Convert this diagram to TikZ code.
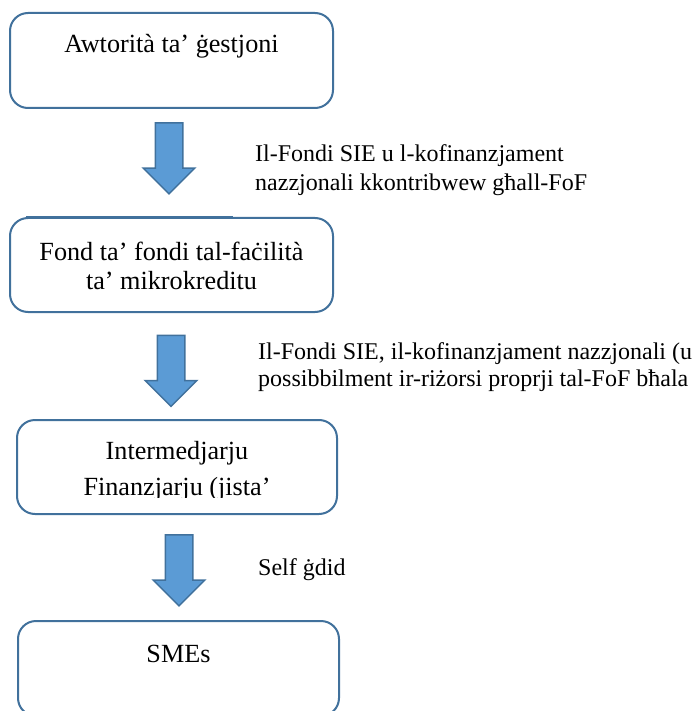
\documentclass[tikz,border=0pt]{standalone}
\usepackage{fontspec}
\setmainfont{Liberation Serif}
\usepackage{tikz}
\usetikzlibrary{shapes,arrows,positioning}
\definecolor{edgeblue}{HTML}{41719C}
\definecolor{fillblue}{HTML}{5B9BD5}
\tikzstyle{stage} = [rectangle, draw=edgeblue, line width=2pt, rounded corners=18pt, fill=white, inner sep=0pt]
\tikzstyle{stagetext} = [anchor=base, inner sep=0pt, text=black, font=\fontsize{26.2}{28}\selectfont]
\tikzstyle{flow} = [single arrow, draw=edgeblue, line width=1.5pt, fill=fillblue, shape border rotate=270, single arrow head extend=12pt, single arrow tip angle=90, minimum width=50pt, minimum height=71pt, inner xsep=13pt, inner ysep=0pt]
\tikzstyle{note} = [anchor=base west, inner sep=0pt, text=black, font=\fontsize{24}{29}\selectfont]

\begin{document}
\begin{tikzpicture}[x=1pt, y=-1pt]
\clip (0,0) rectangle (694,711);

% boxes =============================

\node[stage, minimum width=323pt, minimum height=95pt] (b1) at (171.5,60.5) {};
\node[stage, minimum width=323pt, minimum height=94pt] (b2) at (171.5,265) {};
\node[stage, minimum width=320pt, minimum height=94pt] (b3) at (177,467) {};
\node[stage, minimum width=321pt, minimum height=95pt] (b4) at (178.5,668.5) {};
\draw[edgeblue, line width=1pt] (26,216.6) -- (233,216.6);

% box texts
\node[stagetext] (t1) at (171.5,53) {Awtorità ta’ ġestjoni};
\node[stagetext] (t2a) at (171.5,260) {Fond ta’ fondi tal-faċilità};
\node[stagetext] (t2b) at (171.5,289) {ta’ mikrokreditu};
\begin{scope}
\clip (0,0) rectangle (694,497.5);
\node[stagetext] (t3a) at (177,459) {Intermedjarju};
\node[stagetext] (t3b) at (177,495) {Finanzjarju (jista’};
\end{scope}
\node[stagetext] (t4) at (178.5,662) {SMEs};

% arrows =============================

\node[flow] (a1) at (169,151.5) {};
\node[flow] (a2) at (171,364) {};
\node[flow] (a3) at (179,563.5) {};

% notes
\node[note] (n1a) at (255,162) {Il-Fondi SIE u l-kofinanzjament};
\node[note] (n1b) at (255,191) {nazzjonali kkontribwew għall-FoF};
\node[note] (n2a) at (258,359) {Il-Fondi SIE, il-kofinanzjament nazzjonali (u};
\node[note] (n2b) at (258,386) {possibbilment ir-riżorsi proprji tal-FoF bħala};
\node[note] (n3) at (258,575) {Self ġdid};

\end{tikzpicture}
\end{document}
